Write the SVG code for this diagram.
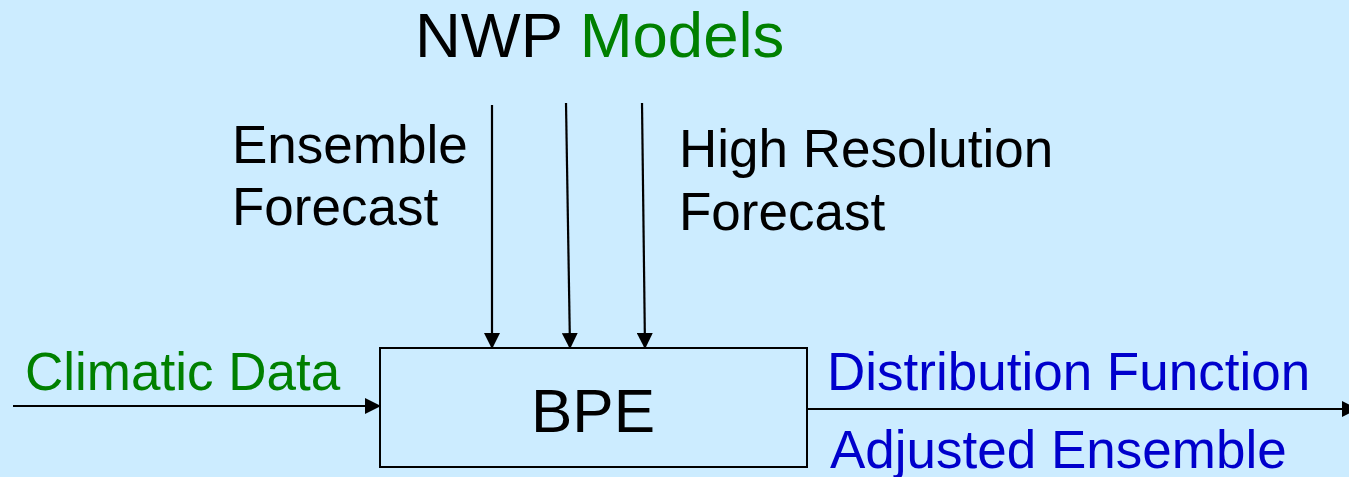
<svg xmlns="http://www.w3.org/2000/svg" width="1349" height="477" viewBox="0 0 1349 477">
  <style>
    text { font-family: "Liberation Sans", Arial, sans-serif; }
    .lbl { font-size: 53px; fill: #000; }
    .green { fill: #008000; }
    .blue { fill: #0000CC; }
    .wire { stroke: #000; stroke-width: 2.2; fill: none; marker-end: url(#head); }
  </style>
  <defs>
    <marker id="head" markerWidth="16" markerHeight="16" refX="15" refY="8" orient="auto" markerUnits="userSpaceOnUse" viewBox="0 0 16 16">
      <path d="M0,0 L16,8 L0,16 Z" fill="#000"/>
    </marker>
  </defs>
  <rect width="1349" height="477" fill="#CCECFF"/>

  <g id="title">
    <text x="415" y="57" font-size="63.5"><tspan fill="#000">NWP </tspan><tspan class="green">Models</tspan></text>
  </g>

  <g id="ensemble-label">
    <text class="lbl" x="232" y="163">Ensemble</text>
    <text class="lbl" x="232" y="225">Forecast</text>
  </g>

  <g id="hires-label">
    <text class="lbl" x="679" y="167">High Resolution</text>
    <text class="lbl" x="679" y="230">Forecast</text>
  </g>

  <g id="climatic">
    <text class="lbl green" x="25" y="390">Climatic Data</text>
  </g>

  <g id="outputs">
    <text class="lbl blue" x="827" y="390">Distribution Function</text>
    <text class="lbl blue" x="830" y="468">Adjusted Ensemble</text>
  </g>

  <g id="bpe">
    <rect x="380" y="348" width="427" height="119" fill="#CCECFF" stroke="#000" stroke-width="2"/>
    <text x="593" y="432" font-size="62" text-anchor="middle" fill="#000">BPE</text>
  </g>

  <g id="connectors">
    <line class="wire" x1="492" y1="105" x2="492" y2="348"/>
    <line class="wire" x1="566" y1="103" x2="570" y2="348"/>
    <line class="wire" x1="642" y1="103" x2="645" y2="348"/>
    <line class="wire" x1="13" y1="406" x2="380" y2="406"/>
    <line class="wire" x1="807" y1="409" x2="1357" y2="409"/>
  </g>
</svg>
